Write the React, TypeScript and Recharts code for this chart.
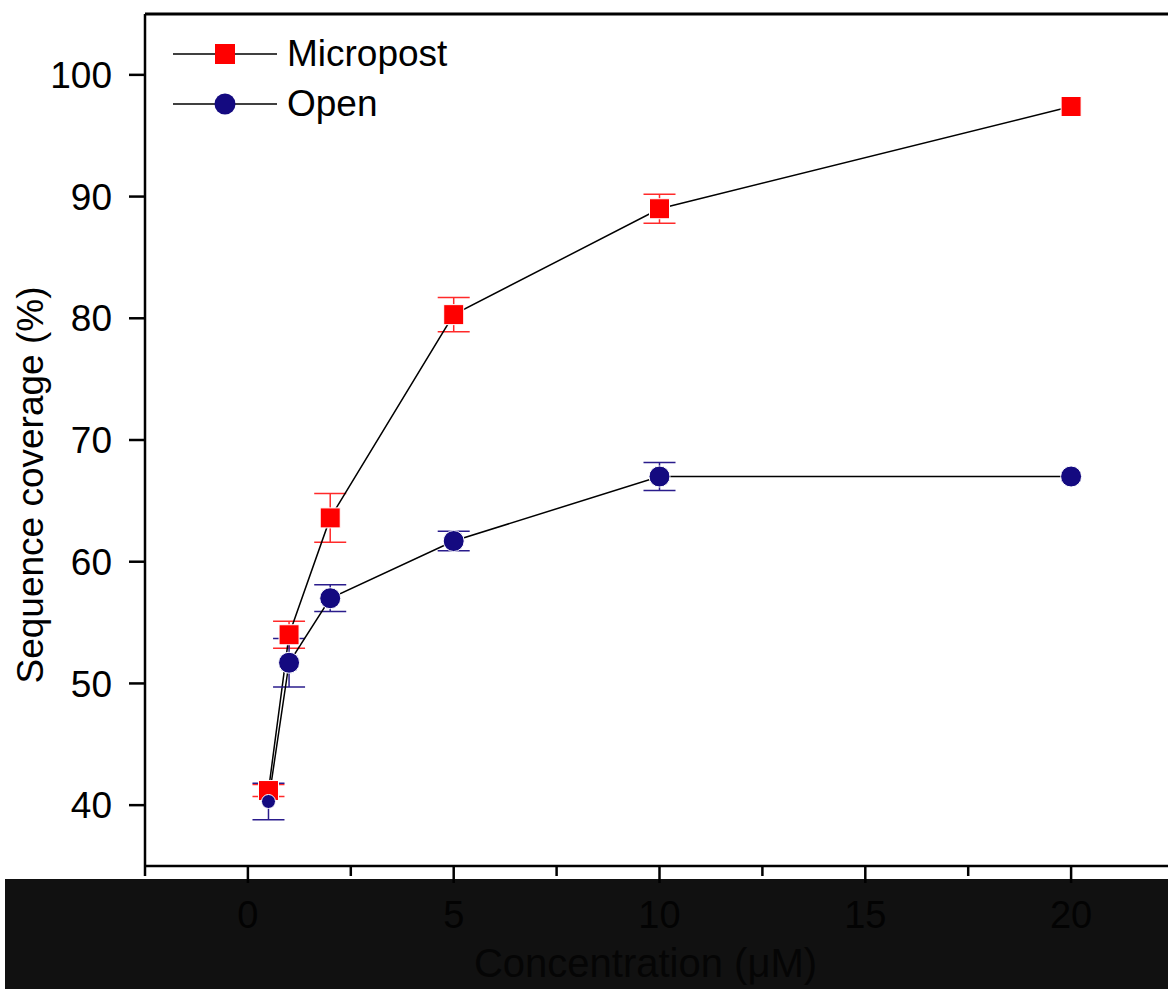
import { LineChart, Line, XAxis, YAxis, ErrorBar, Legend, ReferenceLine } from 'recharts'

const concentration = [0.5, 1, 2, 5, 10, 20]
const micropost = [41.2, 54.0, 63.6, 80.3, 89.0, 97.4]
const micropostErr = [0.5, 1.1, 2.0, 1.4, 1.2, 0]
const open = [40.3, 51.7, 57.0, 61.7, 67.0, 67.0]
const openErr = [1.5, 2.0, 1.1, 0.8, 1.15, 0]

const xTicks = [-2.5, 0, 2.5, 5, 7.5, 10, 12.5, 15, 17.5, 20]
const xLabels = [0, 5, 10, 15, 20]
const yTicks = [40, 50, 60, 70, 80, 90, 100]

const RED = '#ff0000'
const NAVY = '#140a80'
const FONT = '"Liberation Sans", Arial, sans-serif'

const data = concentration.map((c, i) => ({
  c,
  micropost: micropost[i],
  micropostErr: micropostErr[i],
  open: open[i],
  openErr: openErr[i],
}))

const SquareDot = (props: any) => {
  const { cx, cy, index } = props
  if (cx == null || cy == null) return <g key={index} />
  return <rect key={index} x={cx - 10} y={cy - 10} width={20} height={20} fill={RED} stroke="#fff" strokeWidth={1} />
}

const CircleDot = (props: any) => {
  const { cx, cy, index } = props
  if (cx == null || cy == null) return <g key={index} />
  const r = index === 0 ? 7 : 10.5
  return <circle key={index} cx={cx} cy={cy} r={r} fill={NAVY} stroke="#fff" strokeWidth={1} />
}

const XTick = (props: any) => {
  const { x, y, payload } = props
  const major = xLabels.includes(payload.value)
  return (
    <g>
      <line x1={x} x2={x} y1={y} y2={y + (major ? 17 : 10)} stroke="#000" strokeWidth={2.5} />
      {major && (
        <text x={x} y={y + 62} textAnchor="middle" fontSize={38} fill="#030303">
          {payload.value}
        </text>
      )}
    </g>
  )
}

const LegendContent = () => {
  const rows = [
    { name: 'Micropost', marker: <rect x={42} y={14} width={20} height={20} fill={RED} /> },
    { name: 'Open', marker: <circle cx={52} cy={24} r={10.5} fill={NAVY} /> },
  ]
  return (
    <div>
      {rows.map((r) => (
        <div key={r.name} style={{ display: 'flex', alignItems: 'center', height: 50 }}>
          <svg width={104} height={48}>
            <line x1={0} x2={104} y1={24} y2={24} stroke="#000" strokeWidth={1.5} />
            {r.marker}
          </svg>
          <span style={{ marginLeft: 10, fontSize: 37, color: '#000', lineHeight: '48px' }}>{r.name}</span>
        </div>
      ))}
    </div>
  )
}

export default function App() {
  return (
    <div
      style={{
        position: 'absolute',
        left: 0,
        top: 0,
        width: 1168,
        height: 989,
        overflow: 'hidden',
        background: '#fff',
        fontFamily: FONT,
      }}
    >
      <div style={{ position: 'absolute', left: 5, top: 879, width: 1163, height: 110, background: '#111111' }} />
      <div style={{ position: 'absolute', left: 0, top: 0 }}>
        <LineChart width={1180} height={989} data={data} margin={{ top: 14, right: 6, left: 45, bottom: 0 }}>
          <XAxis
            dataKey="c"
            type="number"
            domain={[-2.5, 22.5]}
            ticks={xTicks}
            interval={0}
            height={123}
            tickSize={0}
            tickMargin={0}
            tickLine={false}
            axisLine={{ stroke: '#000', strokeWidth: 2.5 }}
            tick={<XTick />}
            label={{
              content: (p: any) => {
                const vb = p.viewBox
                return (
                  <text x={vb.x + vb.width / 2 - 14} y={977} textAnchor="middle" fontSize={40} fill="#050505">
                    Concentration (μM)
                  </text>
                )
              },
            }}
          />
          <YAxis
            type="number"
            domain={[35, 105]}
            ticks={yTicks}
            interval={0}
            width={100}
            tickSize={16}
            tickMargin={17}
            tick={{ fontSize: 37, fill: '#000' }}
            tickLine={{ stroke: '#000', strokeWidth: 2.5 }}
            axisLine={{ stroke: '#000', strokeWidth: 2.5 }}
            label={{
              content: () => (
                <text transform="translate(43,485) rotate(-90)" textAnchor="middle" fontSize={37} fill="#000">
                  Sequence coverage (%)
                </text>
              ),
            }}
          />
          <ReferenceLine y={105} stroke="#000" strokeWidth={3} ifOverflow="visible" />
          <Legend
            layout="vertical"
            align="center"
            verticalAlign="middle"
            wrapperStyle={{ top: 29, left: 173, width: 320 }}
            content={<LegendContent />}
          />
          <Line
            dataKey="micropost"
            name="Micropost"
            type="linear"
            stroke="#000"
            strokeWidth={1.5}
            dot={SquareDot}
            activeDot={false}
            isAnimationActive={false}
          >
            <ErrorBar dataKey="micropostErr" direction="y" width={16} stroke="#ff2a2a" strokeWidth={1.5} />
          </Line>
          <Line
            dataKey="open"
            name="Open"
            type="linear"
            stroke="#000"
            strokeWidth={1.5}
            dot={CircleDot}
            activeDot={false}
            isAnimationActive={false}
          >
            <ErrorBar dataKey="openErr" direction="y" width={16} stroke="#2a1c8c" strokeWidth={1.5} />
          </Line>
        </LineChart>
      </div>
    </div>
  )
}
